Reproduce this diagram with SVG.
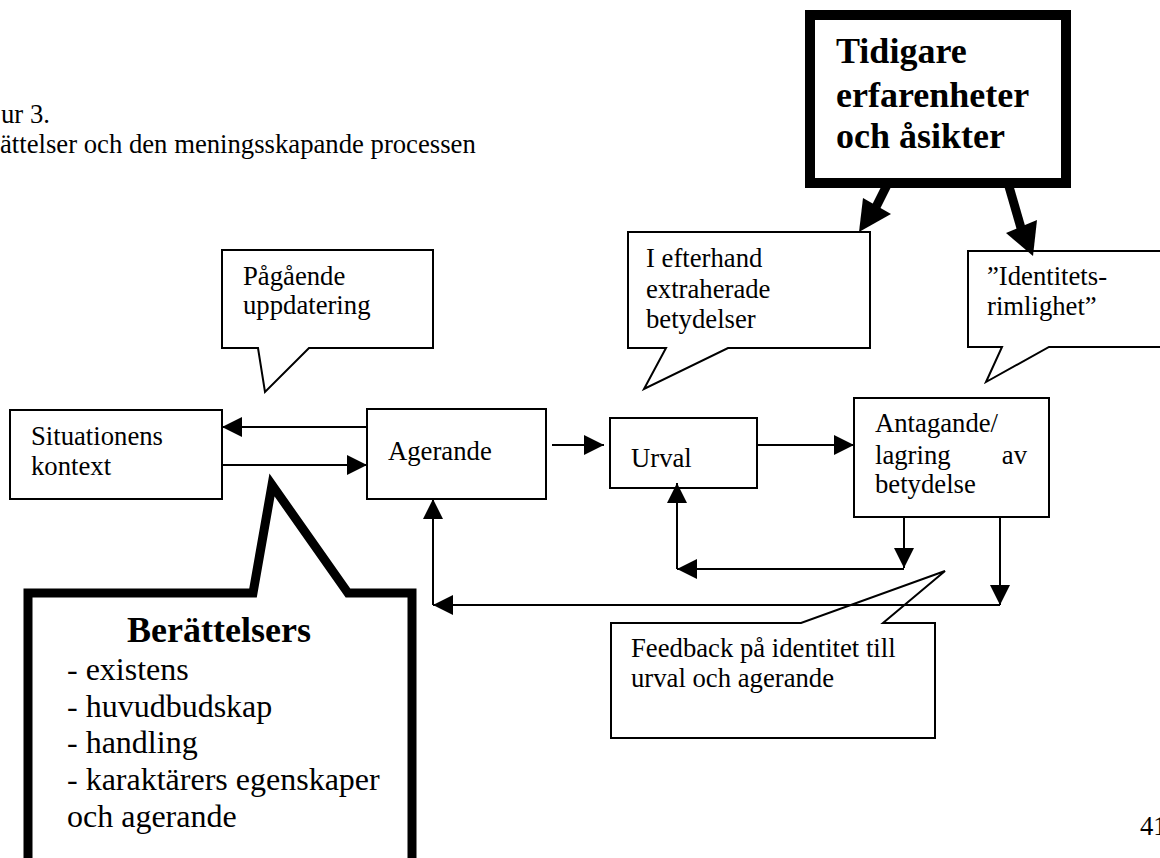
<svg xmlns="http://www.w3.org/2000/svg" width="1160" height="858" viewBox="0 0 1160 858">
<style>
text{font-family:"Liberation Serif","Times New Roman",serif;fill:#000}
.t{font-size:26.7px}
.b{font-size:36px;font-weight:bold}
.l{font-size:32px}
.box{fill:#fff;stroke:#000;stroke-width:2}
.thick{fill:#fff;stroke:#000;stroke-width:9;stroke-linejoin:miter;stroke-miterlimit:10}
.ln{fill:none;stroke:#000;stroke-width:2}
</style>
<defs>
<marker id="ah" markerUnits="userSpaceOnUse" viewBox="0 0 20 20" markerWidth="20" markerHeight="20" refX="20" refY="10" orient="auto">
<path d="M0,0 L20,10 L0,20 Z" fill="#000"/>
</marker>
</defs>
<rect width="1160" height="858" fill="#fff"/>

<g id="caption">
<text class="t" x="1" y="123">ur 3.</text>
<text class="t" x="0" y="153">ättelser och den meningsskapande processen</text>
</g>

<g id="situationens">
<rect class="box" x="10" y="410" width="212" height="89"/>
<text class="t" x="31" y="445">Situationens</text>
<text class="t" x="31" y="475">kontext</text>
</g>

<g id="agerande">
<rect class="box" x="367" y="409" width="179" height="90"/>
<text class="t" x="388" y="460">Agerande</text>
</g>

<g id="urval">
<rect class="box" x="610" y="418" width="147" height="70"/>
<text class="t" x="631" y="467">Urval</text>
</g>

<g id="antagande">
<rect class="box" x="854" y="398" width="195" height="119"/>
<text class="t" x="875" y="432">Antagande/</text>
<text class="t" x="875" y="464">lagring</text>
<text class="t" x="1027" y="464" text-anchor="end">av</text>
<text class="t" x="875" y="493">betydelse</text>
</g>

<g id="pagaende">
<path class="box" d="M222,250 H433 V348 H309 L265,392 L258,348 H222 Z"/>
<text class="t" x="243" y="285">Pågående</text>
<text class="t" x="243" y="314">uppdatering</text>
</g>

<g id="efterhand">
<path class="box" d="M628,232 H870 V348 H728 L644,389 L666,348 H628 Z"/>
<text class="t" x="646" y="267">I efterhand</text>
<text class="t" x="646" y="298">extraherade</text>
<text class="t" x="646" y="328">betydelser</text>
</g>

<g id="identitet">
<path class="box" d="M968,251 H1175 V347 H1049 L986,382 L1002,347 H968 Z"/>
<text class="t" x="987" y="285">”Identitets-</text>
<text class="t" x="987" y="315">rimlighet”</text>
</g>

<g id="feedback">
<path class="box" d="M611,623 H801 L945,571 L883,623 H935 V738 H611 Z"/>
<text class="t" x="631" y="657">Feedback på identitet till</text>
<text class="t" x="631" y="687">urval och agerande</text>
</g>

<g id="tidigare">
<rect class="thick" x="810" y="15" width="256" height="168" style="stroke-width:10"/>
<text class="b" x="836" y="63">Tidigare</text>
<text class="b" x="836" y="107">erfarenheter</text>
<text class="b" x="836" y="148">och åsikter</text>
</g>

<g id="berattelsers">
<path class="thick" d="M28,910 V593 H253 L272,485 L348,593 H412 V910"/>
<text class="b" x="219" y="642" text-anchor="middle">Berättelsers</text>
<text class="l" x="67" y="680">- existens</text>
<text class="l" x="67" y="717">- huvudbudskap</text>
<text class="l" x="67" y="753">- handling</text>
<text class="l" x="67" y="790">- karaktärers egenskaper</text>
<text class="l" x="67" y="827">och agerande</text>
</g>

<g id="page-number">
<text class="t" x="1140" y="835">41</text>
</g>

<g id="connectors">
<line class="ln" x1="367" y1="427" x2="222" y2="427" marker-end="url(#ah)"/>
<line class="ln" x1="222" y1="465" x2="367" y2="465" marker-end="url(#ah)"/>
<line class="ln" x1="552" y1="445" x2="604" y2="445" marker-end="url(#ah)"/>
<line class="ln" x1="757" y1="445" x2="854" y2="445" marker-end="url(#ah)"/>
<line class="ln" x1="904" y1="517" x2="904" y2="568" marker-end="url(#ah)"/>
<line class="ln" x1="904" y1="569" x2="677" y2="569" marker-end="url(#ah)"/>
<line class="ln" x1="677" y1="569" x2="677" y2="483" marker-end="url(#ah)"/>
<line class="ln" x1="1000" y1="517" x2="1000" y2="605" marker-end="url(#ah)"/>
<line class="ln" x1="1000" y1="605" x2="433" y2="605" marker-end="url(#ah)"/>
<line class="ln" x1="433" y1="605" x2="433" y2="499" marker-end="url(#ah)"/>
<line x1="888" y1="183" x2="876" y2="207" stroke="#000" stroke-width="9"/>
<polygon points="863,198 891,214 859,232" fill="#000"/>
<line x1="1008" y1="183" x2="1021" y2="228" stroke="#000" stroke-width="9"/>
<polygon points="1006,233 1037,220 1033,256" fill="#000"/>
</g>
</svg>
